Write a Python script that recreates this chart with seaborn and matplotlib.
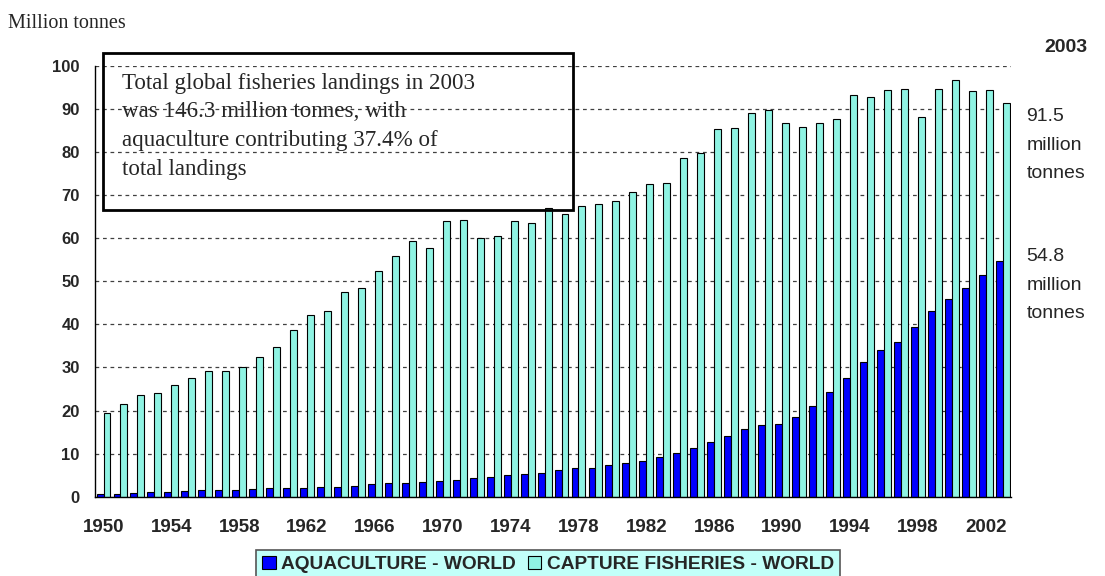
import numpy as np
import pandas as pd
import seaborn as sns
import matplotlib
matplotlib.use("Agg")
import matplotlib.pyplot as plt
from matplotlib.patches import Rectangle

# values (million tonnes)
years = list(range(1950, 2004))
aquaculture = [0.6, 0.7, 0.9, 1.0, 1.2, 1.4, 1.5, 1.6, 1.6, 1.8,
               2.0, 2.0, 2.1, 2.3, 2.3, 2.5, 2.9, 3.1, 3.1, 3.4,
               3.6, 3.9, 4.4, 4.6, 5.1, 5.3, 5.6, 6.2, 6.7, 6.7,
               7.4, 7.8, 8.3, 9.2, 10.1, 11.2, 12.6, 14.0, 15.6, 16.6,
               16.8, 18.4, 21.1, 24.4, 27.6, 31.3, 34.0, 35.9, 39.3, 43.0,
               45.8, 48.5, 51.5, 54.8]
capture = [19.4, 21.6, 23.7, 24.1, 25.9, 27.6, 29.2, 29.2, 30.0, 32.4,
           34.7, 38.6, 42.1, 43.0, 47.6, 48.5, 52.5, 55.9, 59.4, 57.7,
           63.9, 64.2, 60.0, 60.5, 63.9, 63.5, 67.0, 65.6, 67.4, 68.0,
           68.7, 70.8, 72.7, 72.9, 78.6, 79.8, 85.3, 85.5, 89.0, 89.9,
           86.7, 85.8, 86.7, 87.6, 93.2, 92.9, 94.4, 94.6, 88.1, 94.6,
           96.8, 94.1, 94.4, 91.5]
series_names = ["AQUACULTURE - WORLD", "CAPTURE FISHERIES - WORLD"]
label_years = years[::4]

df = pd.DataFrame({
    "year": years * 2,
    "series": [series_names[0]] * len(years) + [series_names[1]] * len(years),
    "value": aquaculture + capture,
})

sns.set_style("white")
plt.rcParams["font.family"] = ["Liberation Sans", "DejaVu Sans"]

fig = plt.figure(figsize=(11.05, 5.76), dpi=100)
ax = fig.add_axes([0.086, 0.1377, 0.829, 0.7477])

sns.barplot(data=df, x="year", y="value", hue="series",
            palette=["#0000ff", "#8ff3e3"], saturation=1, edgecolor="black",
            linewidth=0.8, width=0.82, ax=ax)

ax.set_ylim(0, 100)
ax.set_xlim(-0.5, len(years) - 0.5)
ax.set_yticks(np.arange(0, 101, 10))
ax.set_yticklabels([str(v) for v in range(0, 101, 10)], fontsize=12, fontweight="bold")
ax.set_xticks([years.index(y) for y in label_years])
ax.set_xticklabels([str(y) for y in label_years], fontsize=13.5, fontweight="bold")
ax.set_xticks(np.arange(-0.5, len(years), 1), minor=True)
ax.tick_params(axis="x", which="major", length=0, pad=16)
ax.tick_params(axis="x", which="minor", length=5, width=1, color="black", direction="out")
ax.tick_params(axis="y", length=5, width=1, color="black", direction="out", pad=6)
ax.set_xlabel("")
ax.set_ylabel("")
ax.yaxis.grid(True, linestyle=(0, (3, 3)), color="#404040", linewidth=0.9)
ax.set_axisbelow(True)
for s in ["top", "right"]:
    ax.spines[s].set_visible(False)
for s in ["left", "bottom"]:
    ax.spines[s].set_color("black")
    ax.spines[s].set_linewidth(1)

# legend below the chart
ax.get_legend().remove()
handles, labels = ax.get_legend_handles_labels()
leg = fig.legend(handles[:2], labels[:2], loc="center", bbox_to_anchor=(0.496, 0.02),
                 ncol=2, frameon=True, fancybox=False, handlelength=0.7, handleheight=0.7,
                 handletextpad=0.3, columnspacing=0.6, borderpad=0.3,
                 prop={"weight": "bold", "size": 13.8})
leg.get_frame().set_facecolor("#c2fff9")
leg.get_frame().set_edgecolor("#555555")
leg.get_frame().set_linewidth(1.2)
leg.get_frame().set_alpha(1)

# text box
fig.add_artist(Rectangle((0.0932, 0.6354), 0.4254, 0.2726, transform=fig.transFigure,
                         fill=False, edgecolor="black", linewidth=2))
fig.text(0.1104, 0.874, "Total global fisheries landings in 2003\nwas 146.3 million tonnes, with\n"
         "aquaculture contributing 37.4% of\ntotal landings",
         family="Liberation Serif", fontsize=16.6, va="top", ha="left", linespacing=1.48)

fig.text(0.007, 0.96, "Million tonnes", family="Liberation Serif", fontsize=14.5, va="center")
fig.text(0.965, 0.917, "2003", fontsize=14, fontweight="bold", ha="center", va="center")
fig.text(0.929, 0.748, "91.5\nmillion\ntonnes", fontsize=14, ha="left", va="center", linespacing=1.9)
fig.text(0.929, 0.505, "54.8\nmillion\ntonnes", fontsize=14, ha="left", va="center", linespacing=1.9)

fig.savefig("out.png", dpi=100)
